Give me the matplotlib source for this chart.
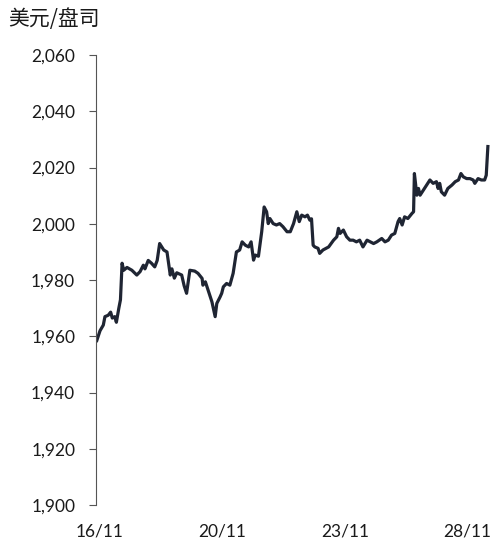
import matplotlib
matplotlib.use("Agg")
import matplotlib.pyplot as plt

plt.rcParams['font.family'] = ['Lato', 'Noto Sans CJK SC', 'DejaVu Sans']

# time offsets (label step = 150) and gold price, USD/oz
t = [-4, 0, 4, 6, 10, 13, 15, 18, 20, 23, 25, 27, 29, 33, 39, 45, 49, 53, 55, 59,
     63, 67, 70, 73, 78, 82, 86, 88, 91, 94, 100, 103, 106, 110, 116, 120, 125, 126, 129, 131,
     135, 137, 141, 143, 147, 149, 151, 155, 159, 163, 167, 171, 174, 178, 182, 185, 188, 190, 194, 198,
     201, 204, 206, 208, 212, 216, 220, 224, 229, 233, 237, 241, 244, 247, 251, 254, 257, 259, 261, 263,
     267, 269, 273, 280, 286, 290, 292, 294, 298, 302, 306, 310, 314, 318, 322, 327, 331, 335, 339, 345,
     349, 353, 357, 361, 365, 367, 370, 373, 377, 382, 384, 385, 388, 390, 392, 396, 400, 404, 408, 412,
     414, 416, 418, 422, 426, 431, 435, 439, 442, 445, 449, 453, 457, 459, 463, 467, 471, 473, 475]
price = [1958.5, 1962, 1964, 1967, 1967.5, 1968.6, 1966.5, 1967, 1965, 1970, 1973, 1986, 1983.5, 1984.5, 1983.5, 1981.8, 1983, 1985.3, 1984, 1987,
         1986, 1984.7, 1987, 1993, 1990.7, 1990, 1981.8, 1984, 1980.7, 1982.6, 1981.8, 1978, 1975.3, 1983.5, 1983.2, 1982.4, 1980.6, 1978.2, 1979.4, 1977.6,
         1974, 1972.3, 1967, 1971.7, 1974, 1975.3, 1977.6, 1978.8, 1978.2, 1982.4, 1990, 1990.7, 1993.6, 1992.4, 1991.8, 1993.6, 1987.1, 1988.9, 1988.5, 1997.2,
         2006, 2004.3, 2000.1, 2001.9, 2000.1, 1999.6, 2000.1, 1999, 1997.2, 1997.2, 2000.1, 2004.3, 2000.8, 2003.1, 2002.5, 2003.1, 2001.3, 2001.8, 1992.4, 1991.8,
         1991.3, 1989.5, 1990.7, 1991.8, 1994.2, 1995.4, 1998.4, 1996.6, 1997.8, 1995.4, 1994.2, 1994.2, 1993.6, 1994.2, 1991.8, 1994.2, 1993.6, 1993, 1993.6, 1994.8,
         1993.6, 1994.2, 1996, 1996.6, 2000.8, 2001.9, 1999.6, 2002.5, 2001.9, 2003.7, 2004.3, 2017.9, 2010.2, 2012.6, 2010.2, 2012, 2013.8, 2015.6, 2014.4, 2015,
         2012.6, 2014.4, 2011.4, 2010.2, 2012.6, 2013.8, 2015, 2015.6, 2017.9, 2016.7, 2016.1, 2016.1, 2015.6, 2014.4, 2016.1, 2015.6, 2015.6, 2017.3, 2027.5]

date_pos = [0, 150, 300, 450]
date_labels = ['16/11', '20/11', '23/11', '28/11']
y_ticks = [1900, 1920, 1940, 1960, 1980, 2000, 2020, 2040, 2060]

fig = plt.figure(figsize=(4.9, 5.46), dpi=100)
ax = fig.add_axes([0.196, 0.075, 0.804, 0.824])

ax.plot(t, price, color='#1f2533', linewidth=2.3, solid_joinstyle='round')

ax.set_xlim(-4.9, 477.6)
ax.set_ylim(1900, 2060)
ax.set_yticks(y_ticks)
ax.set_yticklabels([f'{v:,}' for v in y_ticks])
ax.set_xticks(date_pos)
ax.set_xticklabels(date_labels)

for s in ['top', 'right', 'bottom']:
    ax.spines[s].set_visible(False)
ax.spines['left'].set_color('#555555')
ax.spines['left'].set_linewidth(0.8)

ax.tick_params(axis='y', direction='out', length=5, width=0.8, color='#555555',
               pad=10, labelsize=12.5, labelcolor='#1a1a1a')
ax.tick_params(axis='x', length=0, pad=13, labelsize=12.5, labelcolor='#1a1a1a')

fig.text(0.016, 0.985, '美元/盘司', ha='left', va='top', fontsize=15,
         family=['Noto Sans CJK SC', 'DejaVu Sans'], color='#1a1a1a')

fig.savefig('out.png', dpi=100)
